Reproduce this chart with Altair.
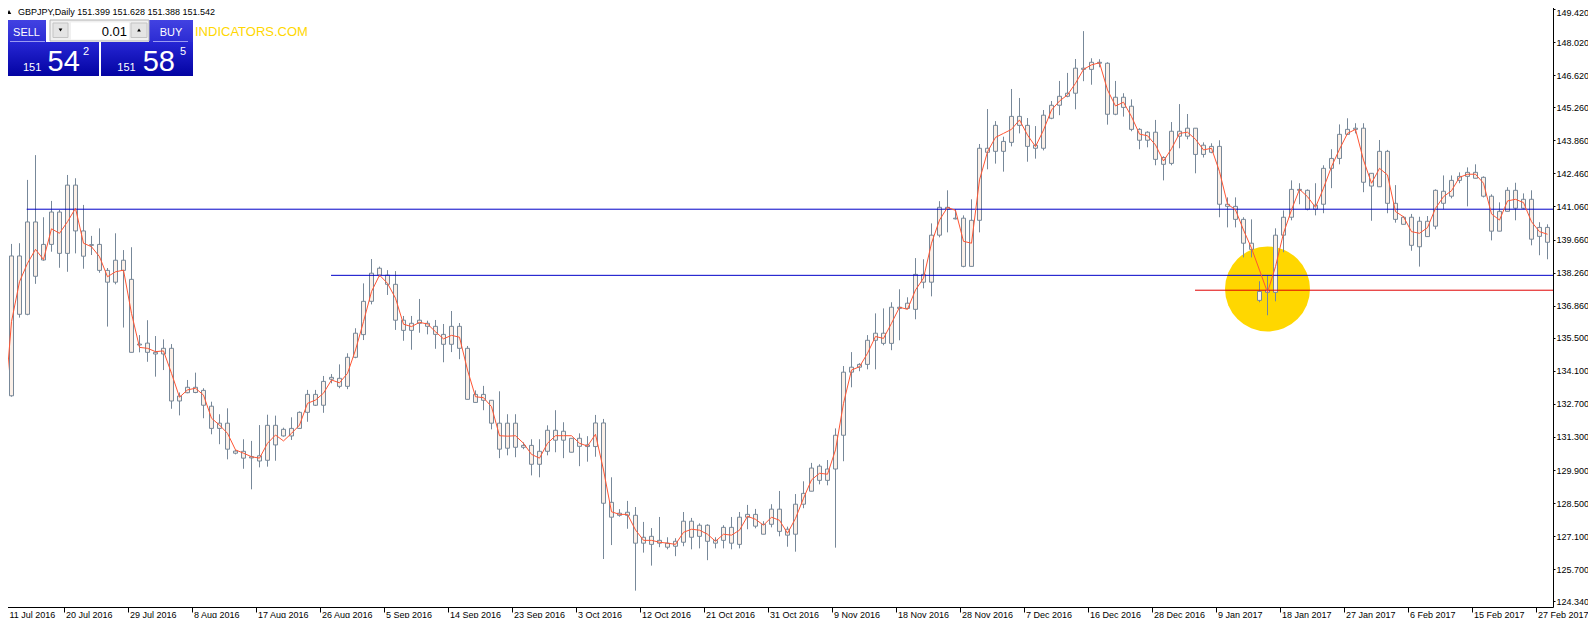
import json
import altair as alt
import pandas as pd

# ---------------- data ----------------
date_labels = ["11 Jul 2016", "20 Jul 2016", "29 Jul 2016", "8 Aug 2016", "17 Aug 2016",
               "26 Aug 2016", "5 Sep 2016", "14 Sep 2016", "23 Sep 2016", "3 Oct 2016",
               "12 Oct 2016", "21 Oct 2016", "31 Oct 2016", "9 Nov 2016", "18 Nov 2016",
               "28 Nov 2016", "7 Dec 2016", "16 Dec 2016", "28 Dec 2016", "9 Jan 2017",
               "18 Jan 2017", "27 Jan 2017", "6 Feb 2017", "15 Feb 2017", "27 Feb 2017"]

price_ticks = [149.42, 148.02, 146.62, 145.26, 143.86, 142.46, 141.06, 139.66, 138.26,
               136.86, 135.5, 134.1, 132.7, 131.3, 129.9, 128.5, 127.1, 125.7, 124.34]

bar_high = [
    133.72, 139.41, 139.44, 142.12, 143.17, 140.54, 141.23, 140.85, 142.33, 142.19,
    141.06, 139.75, 140.07, 138.39, 139.86, 139.15, 139.27, 135.55, 136.18, 135.51,
    135.37, 135.17, 133.12, 133.65, 133.96, 133.30, 132.73, 132.20, 132.45, 130.69,
    131.14, 131.07, 131.74, 132.18, 132.14, 131.63, 132.07, 132.32, 133.23, 133.23,
    133.82, 133.90, 134.31, 134.78, 135.84, 137.74, 138.77, 138.45, 138.30, 138.26,
    136.36, 136.36, 137.08, 136.16, 136.19, 136.02, 136.57, 136.06, 135.09, 133.21,
    133.40, 132.80, 133.17, 132.20, 132.20, 131.01, 131.14, 131.14, 131.73, 132.37,
    131.86, 131.18, 131.39, 131.27, 132.17, 132.00, 129.53, 128.18, 128.53, 128.27,
    127.64, 127.38, 127.85, 126.99, 126.95, 128.06, 127.81, 127.58, 127.54, 126.99,
    127.50, 127.85, 128.06, 128.36, 128.19, 127.67, 128.39, 128.95, 127.44, 128.82,
    129.36, 130.14, 130.08, 130.26, 131.60, 134.24, 134.83, 134.36, 135.55, 136.47,
    136.68, 136.94, 137.49, 137.15, 138.81, 138.76, 140.28, 141.22, 141.68, 140.88,
    140.62, 141.30, 143.64, 145.12, 144.61, 143.95, 145.97, 145.59, 144.74, 144.40,
    145.08, 145.46, 146.31, 146.65, 147.24, 148.42, 147.27, 147.23, 147.10, 146.31,
    145.79, 145.53, 144.31, 144.18, 144.66, 143.12, 144.57, 145.33, 144.91, 144.31,
    143.71, 143.67, 143.80, 141.38, 141.38, 140.54, 140.45, 137.83, 138.08, 140.07,
    140.83, 142.10, 141.98, 141.72, 141.98, 142.74, 143.42, 144.47, 144.73, 144.52,
    144.52, 142.40, 143.81, 143.39, 141.90, 140.59, 140.68, 140.56, 140.59, 141.72,
    142.31, 142.31, 142.44, 142.65, 142.78, 142.27, 141.51, 141.17, 141.81, 142.00,
    141.55, 141.68, 140.33, 140.24]

body_top = [
    133.01, 138.90, 138.90, 140.34, 140.34, 139.39, 140.76, 140.76, 141.90, 141.90,
    139.96, 139.38, 139.39, 138.29, 138.72, 138.72, 137.91, 135.17, 135.21, 134.82,
    134.99, 134.99, 132.97, 133.34, 133.34, 133.21, 132.54, 131.82, 131.82, 130.64,
    130.63, 130.40, 130.44, 131.73, 131.73, 131.56, 131.60, 132.28, 133.04, 133.04,
    133.59, 133.76, 133.72, 134.61, 135.63, 136.98, 138.17, 138.38, 138.09, 137.70,
    136.18, 136.05, 136.18, 136.05, 135.92, 135.58, 135.92, 135.92, 134.99, 133.04,
    133.04, 132.79, 131.82, 131.82, 131.82, 130.88, 130.88, 130.63, 131.52, 131.52,
    131.48, 131.18, 131.18, 130.90, 131.83, 131.83, 128.47, 128.01, 128.05, 127.92,
    126.99, 127.03, 126.86, 126.74, 126.82, 127.67, 127.67, 127.50, 127.50, 126.86,
    127.41, 127.41, 127.84, 127.96, 127.96, 127.54, 128.18, 128.18, 127.33, 128.39,
    128.85, 129.92, 130.00, 129.88, 131.31, 133.98, 134.19, 134.31, 135.33, 135.63,
    135.63, 136.73, 136.73, 136.90, 138.12, 138.12, 139.78, 140.96, 140.96, 140.50,
    140.50, 140.41, 143.46, 143.46, 144.43, 143.75, 144.81, 144.81, 144.43, 143.59,
    144.86, 145.28, 145.66, 145.79, 146.85, 146.85, 147.10, 147.10, 147.06, 145.62,
    145.62, 145.24, 144.26, 144.14, 144.14, 143.07, 144.18, 144.18, 144.31, 144.31,
    143.59, 143.54, 143.54, 141.09, 141.00, 140.45, 139.44, 137.40, 137.45, 139.78,
    140.54, 141.72, 141.72, 141.68, 141.05, 142.61, 143.03, 144.05, 144.26, 144.31,
    144.31, 142.40, 143.33, 143.33, 141.13, 140.54, 140.54, 140.37, 140.37, 141.68,
    141.64, 142.10, 142.27, 142.44, 142.44, 142.23, 141.43, 140.79, 141.68, 141.68,
    141.30, 141.30, 140.11, 140.11]

body_bottom = [
    130.23, 132.98, 136.43, 136.43, 138.04, 138.73, 139.39, 139.01, 139.01, 139.96,
    138.89, 139.35, 138.29, 137.79, 137.79, 138.29, 134.82, 135.13, 134.82, 134.75,
    134.75, 132.76, 132.76, 133.11, 133.12, 132.58, 131.60, 131.60, 130.72, 130.55,
    130.34, 130.35, 130.22, 130.25, 130.90, 131.28, 131.28, 131.60, 132.28, 132.58,
    132.58, 133.68, 133.38, 133.38, 134.61, 135.57, 136.98, 138.09, 137.70, 136.18,
    135.75, 135.75, 136.05, 135.92, 135.58, 135.16, 135.16, 134.99, 132.83, 132.70,
    132.79, 131.82, 130.72, 130.76, 130.80, 130.80, 130.08, 130.08, 130.63, 131.10,
    131.10, 130.59, 130.84, 130.83, 130.83, 128.43, 127.84, 127.92, 127.92, 126.74,
    126.74, 126.69, 126.74, 126.57, 126.61, 126.78, 126.99, 127.03, 126.82, 126.74,
    126.86, 126.74, 126.69, 127.84, 127.46, 127.12, 127.54, 127.24, 127.08, 127.12,
    128.39, 128.94, 129.40, 129.40, 129.88, 131.31, 133.98, 134.19, 134.31, 135.33,
    135.20, 135.20, 136.68, 136.68, 136.64, 137.79, 137.79, 139.78, 140.88, 140.47,
    138.46, 138.46, 140.41, 143.29, 143.33, 143.33, 143.71, 144.43, 143.54, 143.46,
    143.46, 144.73, 145.28, 145.66, 145.79, 146.80, 146.80, 147.06, 144.90, 144.90,
    145.19, 144.26, 143.80, 143.80, 142.99, 142.78, 142.82, 143.97, 143.97, 143.20,
    143.20, 143.29, 141.09, 141.00, 140.45, 139.44, 139.18, 137.02, 137.36, 137.36,
    139.78, 140.54, 141.68, 140.88, 140.88, 141.09, 142.61, 143.03, 144.05, 144.26,
    142.02, 141.86, 141.83, 141.13, 140.45, 140.24, 139.35, 139.29, 139.72, 140.16,
    141.13, 141.43, 142.10, 142.27, 142.19, 141.43, 139.95, 139.95, 140.79, 140.92,
    140.92, 139.61, 139.73, 139.48]

bar_low = [
    130.12, 132.94, 136.29, 136.39, 137.72, 138.70, 139.08, 138.40, 138.23, 139.01,
    138.36, 138.94, 138.19, 135.91, 137.70, 135.87, 134.82, 134.82, 134.42, 133.79,
    134.07, 132.43, 132.15, 133.09, 133.09, 132.03, 131.35, 130.93, 130.29, 130.50,
    129.89, 129.02, 129.95, 129.98, 130.23, 131.25, 131.11, 131.60, 131.88, 132.55,
    132.26, 133.51, 133.30, 133.26, 134.57, 135.34, 136.85, 138.02, 137.25, 135.77,
    135.31, 134.93, 135.65, 135.58, 134.97, 134.40, 134.83, 134.53, 132.83, 132.70,
    132.37, 131.56, 130.34, 130.46, 130.38, 130.72, 129.61, 129.53, 130.46, 130.59,
    130.34, 130.59, 130.00, 130.19, 130.40, 126.07, 126.66, 127.86, 127.35, 124.73,
    126.34, 125.79, 126.57, 126.48, 126.19, 126.61, 126.48, 126.52, 126.02, 126.52,
    126.52, 126.48, 126.52, 127.33, 127.37, 127.12, 127.41, 127.03, 126.59, 126.38,
    128.22, 128.94, 129.23, 129.19, 126.55, 130.21, 133.34, 134.02, 134.10, 134.10,
    135.12, 134.91, 135.33, 136.68, 136.22, 137.53, 137.19, 139.69, 139.90, 140.45,
    138.42, 138.46, 139.90, 142.57, 142.81, 142.47, 143.54, 144.09, 142.89, 143.02,
    143.37, 144.69, 144.86, 145.62, 145.11, 146.30, 146.15, 146.89, 144.46, 144.86,
    144.80, 144.18, 143.42, 143.50, 142.74, 142.10, 142.74, 143.46, 143.84, 142.40,
    143.07, 143.25, 140.54, 140.11, 140.11, 138.84, 138.84, 136.94, 136.39, 136.98,
    139.06, 140.41, 141.09, 140.83, 140.62, 140.71, 141.77, 142.78, 144.02, 144.09,
    141.60, 140.39, 141.83, 140.71, 140.31, 140.24, 139.12, 138.45, 139.72, 140.03,
    140.88, 141.34, 141.98, 141.00, 142.19, 141.38, 139.56, 139.95, 140.79, 140.41,
    140.88, 139.35, 138.93, 138.76]

ma_values = [
    131.96, 136.12, 137.81, 138.59, 139.18, 138.75, 140.05, 139.86, 140.35, 140.92,
    139.44, 139.29, 138.87, 138.02, 138.23, 138.30, 136.47, 135.03, 134.99, 134.85,
    134.88, 133.93, 132.92, 133.23, 133.30, 133.01, 132.03, 131.74, 131.39, 130.69,
    130.55, 130.40, 130.34, 130.97, 131.32, 131.07, 131.39, 131.74, 132.66, 132.80,
    133.09, 133.65, 133.53, 133.93, 134.92, 136.12, 137.39, 138.09, 137.74, 137.11,
    136.01, 135.91, 136.09, 136.02, 135.69, 135.39, 135.54, 135.46, 134.07, 132.94,
    132.90, 132.52, 131.29, 131.27, 131.29, 130.97, 130.50, 130.34, 130.97, 131.29,
    131.29, 131.29, 130.97, 130.85, 131.35, 129.84, 128.07, 127.96, 127.96, 127.30,
    126.86, 126.86, 126.78, 126.74, 126.69, 127.20, 127.33, 127.29, 127.12, 126.82,
    127.12, 127.08, 127.29, 127.88, 127.75, 127.50, 127.84, 127.71, 127.16, 127.79,
    128.64, 129.42, 129.70, 129.66, 130.69, 132.66, 134.07, 134.21, 134.78, 135.49,
    135.41, 136.05, 136.73, 136.64, 137.46, 137.96, 139.44, 140.42, 140.96, 140.83,
    139.52, 139.44, 142.12, 143.31, 143.92, 144.09, 144.26, 144.66, 144.02, 143.53,
    144.23, 145.08, 145.46, 145.72, 146.21, 146.80, 146.99, 147.08, 145.93, 145.25,
    145.41, 144.80, 144.06, 143.99, 143.60, 142.92, 143.44, 144.09, 144.14, 143.84,
    143.39, 143.46, 142.47, 141.10, 140.85, 140.00, 139.23, 138.30, 137.36, 138.45,
    139.86, 140.85, 141.72, 141.41, 140.96, 141.77, 142.68, 143.42, 144.09, 144.26,
    142.96, 141.98, 142.61, 142.33, 140.78, 140.56, 139.93, 139.86, 140.10, 140.92,
    141.41, 141.66, 142.23, 142.36, 142.36, 141.98, 140.68, 140.42, 141.23, 141.30,
    141.16, 140.35, 139.93, 139.82]

# horizontal levels: starting bar, price, colour
level_start = [2.9, 40.94, 148.94]
level_prices = [140.88, 138.08, 137.45]
level_colors = ["#0000C8", "#0000C8", "#E00000"]

# highlighted zone (yellow disc)
marker_bar = [158]
marker_price = [137.50]

# ---------------- chart ----------------
n = len(bar_high)
candles = pd.DataFrame({
    "bar": list(range(n)), "high": bar_high, "top": body_top,
    "bottom": body_bottom, "low": bar_low, "ma": ma_values,
})
levels = pd.DataFrame({
    "start": level_start, "end": [n + 10] * len(level_start),
    "price": level_prices, "color": level_colors,
})
marker = pd.DataFrame({"bar": marker_bar, "price": marker_price})

W, H = 1552, 606
BAR_PX = 8
x_first = -2.5 / BAR_PX
x_domain = [x_first, x_first + W / BAR_PX]
y_domain = [124.038, 149.695]

LABEL_FONT = "Liberation Sans"
UI_FONT = "'Liberation Sans', sans-serif"

xscale = alt.Scale(domain=x_domain, nice=False, zero=False, padding=0)
yscale = alt.Scale(domain=y_domain, nice=False, zero=False, padding=0)

x_axis = alt.Axis(
    values=list(range(0, n, 8)),
    labelExpr=json.dumps(date_labels) + "[round(datum.value / 8)]",
    title=None, grid=False, domain=False, ticks=True, tickSize=5,
    tickColor="#000000", tickOffset=-4,
    labelAlign="left", labelBaseline="top", labelPadding=-2,
    labelOffset={"condition": {"test": "datum.value < 1", "value": 9.5}, "value": 2},
    labelFont=LABEL_FONT, labelFontSize=9,
    labelColor="#000000", labelFlush=False, labelOverlap=False,
)
y_axis = alt.Axis(
    orient="right", values=price_ticks, format=".3f", title=None, grid=False,
    domain=False, ticks=True, tickSize=2, tickColor="#000000", tickOffset=1.5,
    labelPadding=1,
    labelBaseline={"condition": {"test": "datum.value > 149", "value": "top"},
                   "value": "middle"},
    labelFont=LABEL_FONT, labelFontSize=9, labelColor="#000000",
    labelFlush=False, labelOverlap=False,
)


def X(field):
    return alt.X(field, type="quantitative", scale=xscale, axis=x_axis)


def Y(field):
    return alt.Y(field, type="quantitative", scale=yscale, axis=y_axis)


disc = alt.Chart(marker).mark_circle(size=7225, color="#FFD700", opacity=1).encode(
    x=X("bar"), y=Y("price"))

wicks = alt.Chart(candles).mark_rule(color="#778899", strokeWidth=1, clip=True).encode(
    x=X("bar"), y=Y("low"), y2="high")

bodies = alt.Chart(candles).mark_bar(
    size=4, fill="#FBF0E8", stroke="#778899", strokeWidth=1, clip=True
).encode(x=X("bar"), y=Y("bottom"), y2="top")

hlines = alt.Chart(levels).mark_rule(strokeWidth=1, clip=True).encode(
    x=X("start"), x2="end", y=Y("price"), color=alt.Color("color:N", scale=None))

ma_line = alt.Chart(candles).mark_line(color="#FF5533", strokeWidth=1, clip=True).encode(
    x=X("bar"), y=Y("ma"))

# ---------------- trade panel (screen furniture, pixel placed) ----------------
one = pd.DataFrame({"k": [0]})


def grad(c0, c1):
    return {"gradient": "linear", "x1": 0, "y1": 0, "x2": 0, "y2": 1,
            "stops": [{"offset": 0, "color": c0}, {"offset": 1, "color": c1}]}


def box(x, y, x2, y2, fill, stroke=None):
    kw = {"fill": fill}
    if stroke is not None:
        kw.update(stroke=stroke, strokeWidth=1)
    return alt.Chart(one).mark_rect(**kw).encode(
        x=alt.value(x), x2=alt.value(x2), y=alt.value(y), y2=alt.value(y2))


def label(txt, x, y, size, color, align="left", font=UI_FONT):
    return alt.Chart(one).mark_text(
        text=txt, align=align, baseline="alphabetic", font=font,
        fontSize=size, color=color).encode(x=alt.value(x), y=alt.value(y))


def tri(shape, x, y, size):
    return alt.Chart(one).mark_point(
        shape=shape, filled=True, color="#000000", size=size, opacity=1
    ).encode(x=alt.value(x), y=alt.value(y))


ui = [
    tri("triangle-up", 8, 11, 20),
    label("GBPJPY,Daily  151.399 151.628 151.388 151.542", 17, 13.5, 9, "#000000",
          font=LABEL_FONT),
    box(5, 19, 45, 42, grad("#4242e2", "#2a2ad2")),
    box(148, 19, 192, 42, grad("#4242e2", "#2a2ad2")),
    box(5, 41, 98, 75, grad("#2626d4", "#0303a2")),
    box(100, 41, 192, 75, grad("#2626d4", "#0303a2")),
    box(9, 40, 44, 41, "#9a9af2"),
    box(152, 40, 187, 41, "#9a9af2"),
    box(49, 19, 148, 40, "#f0f0f0", "#b4b4b4"),
    box(70, 21.5, 128, 38.5, "#ffffff"),
    box(52, 22, 67, 36.5, "#e4e4e4", "#c4c4c4"),
    box(130, 22, 146, 36.5, "#e4e4e4", "#c4c4c4"),
    tri("triangle-down", 59.5, 29, 14),
    tri("triangle-up", 138, 29, 14),
    label("0.01", 126, 35, 13, "#000000", align="right"),
    label("SELL", 25.5, 34.7, 11, "#ffffff", align="center"),
    label("BUY", 170, 34.7, 11, "#ffffff", align="center"),
    label("151", 22, 69.7, 11, "#ffffff"),
    label("54", 46.5, 69.7, 29, "#ffffff"),
    label("2", 82, 54, 11, "#ffffff"),
    label("151", 116.3, 69.7, 11, "#ffffff"),
    label("58", 141.7, 69.7, 29, "#ffffff"),
    label("5", 179, 54, 11, "#ffffff"),
    label("INDICATORS.COM", 194, 35, 13, "#FFD700", font=LABEL_FONT),
]

chart = alt.layer(disc, wicks, bodies, hlines, ma_line, *ui).properties(
    width=W, height=H, background="#ffffff",
    autosize=alt.AutoSizeParams(type="none"),
).configure_view(stroke="#000000", strokeWidth=1)

# svg is kept at 1580 px wide so the page container never shrinks it
pad_tight = {"left": -7, "top": -7, "right": 35, "bottom": 11}
pad_safe = {"left": 0, "top": 0, "right": 28, "bottom": 4}
try:
    test = chart.properties(padding=pad_tight)
    test.to_dict()
    chart = test
except Exception:
    chart = chart.properties(padding=pad_safe)

chart.save("out.html", embed_options={"renderer": "svg", "actions": False})
